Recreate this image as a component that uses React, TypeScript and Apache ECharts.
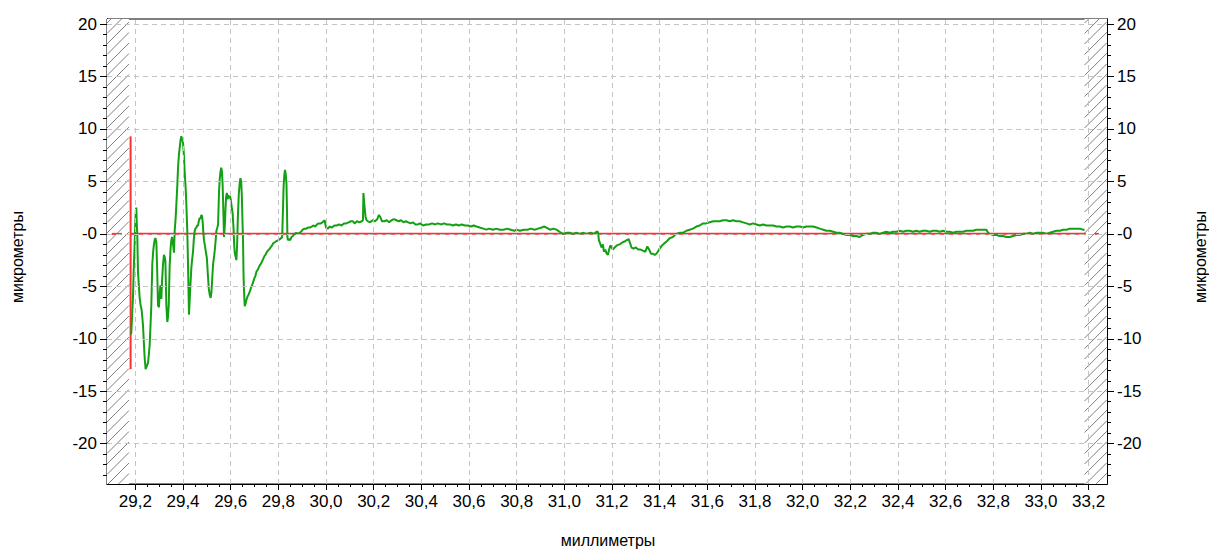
import React, { useEffect, useRef } from "react";
import * as echarts from "echarts";

// ---- axis ranges / ticks ----
const xMin = 29.081;
const xMax = 33.277;
const yMin = -23.84;
const yMax = 20.48;
const xMajor = [29.2, 29.4, 29.6, 29.8, 30.0, 30.2, 30.4, 30.6, 30.8, 31.0, 31.2, 31.4, 31.6, 31.8, 32.0, 32.2, 32.4, 32.6, 32.8, 33.0, 33.2];
const xMinor = [29.2, 29.25, 29.3, 29.35, 29.4, 29.45, 29.5, 29.55, 29.6, 29.65, 29.7, 29.75, 29.8, 29.85, 29.9, 29.95, 30.0, 30.05, 30.1, 30.15, 30.2, 30.25, 30.3, 30.35, 30.4, 30.45, 30.5, 30.55, 30.6, 30.65, 30.7, 30.75, 30.8, 30.85, 30.9, 30.95, 31.0, 31.05, 31.1, 31.15, 31.2, 31.25, 31.3, 31.35, 31.4, 31.45, 31.5, 31.55, 31.6, 31.65, 31.7, 31.75, 31.8, 31.85, 31.9, 31.95, 32.0, 32.05, 32.1, 32.15, 32.2, 32.25, 32.3, 32.35, 32.4, 32.45, 32.5, 32.55, 32.6, 32.65, 32.7, 32.75, 32.8, 32.85, 32.9, 32.95, 33.0, 33.05, 33.1, 33.15, 33.2];
const yMajor = [-20, -15, -10, -5, 0, 5, 10, 15, 20];
const yMinor = [-23, -22, -21, -20, -19, -18, -17, -16, -15, -14, -13, -12, -11, -10, -9, -8, -7, -6, -5, -4, -3, -2, -1, 0, 1, 2, 3, 4, 5, 6, 7, 8, 9, 10, 11, 12, 13, 14, 15, 16, 17, 18, 19, 20];

// ---- hatched (no-data) zones, mm ----
const hatchZones = [
  [29.081, 29.173],
  [33.183, 33.277],
];

// ---- red reference lines ----
const zeroLeft = [[29.101, 0], [29.143, 0]];
const zeroMain = [[29.18, 0], [33.188, 0]];
const zeroRight = [[33.226, 0], [33.243, 0]];
const startMarker = [[29.18, 9.3], [29.18, -12.9]];

// ---- measured profile (mm, micrometres) ----
const profileStart: [number, number][] = [
  [29.181, -9.6], [29.183, -9.4], [29.186, -8.0], [29.188, -7.0], [29.190, -6.1], [29.193, -3.5], [29.197, -1.0], [29.200, 1.2], [29.202, 2.2], [29.204, 2.5], [29.206, 1.0], [29.208, 0.0],
  [29.211, -3.6], [29.215, -5.0], [29.218, -6.1], [29.222, -6.8], [29.226, -7.2], [29.229, -7.9], [29.232, -8.7], [29.236, -10.5], [29.239, -11.8], [29.243, -12.9], [29.248, -12.6], [29.253, -12.3],
  [29.257, -11.4], [29.260, -10.6], [29.264, -8.5], [29.267, -6.8], [29.271, -2.9], [29.275, -1.6], [29.278, -1.0], [29.281, -0.6], [29.284, -0.4], [29.288, -0.8], [29.291, -3.0], [29.295, -6.8],
  [29.299, -7.0], [29.302, -5.8], [29.305, -4.9], [29.309, -6.2], [29.312, -4.5], [29.316, -2.9], [29.320, -2.0], [29.323, -2.2], [29.326, -2.6], [29.330, -6.8], [29.334, -8.4], [29.337, -7.9],
  [29.340, -6.8], [29.344, -3.0], [29.348, -1.3], [29.351, -0.6], [29.354, -0.3], [29.358, -0.9], [29.362, -1.8], [29.365, 0.3], [29.369, 1.5], [29.372, 2.8], [29.376, 4.6], [29.379, 6.3],
  [29.383, 7.6], [29.386, 8.2], [29.390, 9.0], [29.393, 9.3], [29.396, 9.0], [29.400, 8.7], [29.404, 7.4], [29.407, 5.9], [29.411, 4.4], [29.414, 2.8], [29.418, 0.2], [29.421, -3.0],
  [29.425, -7.7], [29.428, -6.3], [29.431, -4.9], [29.435, -3.2], [29.438, -2.5], [29.442, -1.7], [29.445, -0.6], [29.449, 0.3], [29.452, 0.5], [29.456, 0.6], [29.459, 0.8], [29.463, 0.8],
  [29.466, 1.2], [29.470, 1.5], [29.474, 1.5], [29.477, 1.8], [29.480, 1.7], [29.483, 1.0], [29.485, 0.2], [29.488, -0.6], [29.491, -1.0], [29.495, -1.6], [29.500, -2.3], [29.504, -3.8],
  [29.508, -5.2], [29.512, -5.8], [29.516, -6.1], [29.519, -5.6], [29.521, -4.9], [29.526, -2.9], [29.530, -2.2], [29.533, -1.6], [29.537, -0.6], [29.540, 0.3], [29.544, 0.6], [29.547, 0.9],
  [29.551, 4.0], [29.554, 5.2], [29.557, 5.9], [29.560, 6.3], [29.563, 6.0], [29.566, 4.8], [29.568, 3.2], [29.572, -0.3],
];

const profileMiddle: [number, number][] = [
  [29.576, 1.0], [29.578, 2.3], [29.581, 3.6], [29.584, 3.9], [29.587, 3.3], [29.590, 3.7], [29.594, 3.4], [29.597, 3.6], [29.600, 3.3], [29.604, 2.6], [29.608, 2.0], [29.612, 0.5],
  [29.615, -1.2], [29.617, -1.8], [29.621, -2.2], [29.624, -2.5], [29.627, -1.0], [29.630, 1.5], [29.634, 3.8], [29.638, 4.9], [29.641, 5.3], [29.644, 5.0], [29.647, 3.5], [29.650, 0.8],
  [29.652, -0.9], [29.654, -4.1], [29.657, -6.0], [29.659, -6.9], [29.663, -6.6], [29.666, -6.3], [29.670, -6.0], [29.675, -5.8], [29.680, -5.5], [29.686, -5.1], [29.690, -4.9], [29.694, -4.6],
  [29.700, -4.2], [29.704, -4.0], [29.708, -3.6], [29.714, -3.4], [29.718, -3.2], [29.722, -3.0], [29.728, -2.8], [29.732, -2.6], [29.736, -2.4], [29.742, -2.1], [29.746, -2.0], [29.750, -1.8],
  [29.756, -1.6], [29.760, -1.5], [29.764, -1.4], [29.770, -1.2], [29.774, -1.1], [29.778, -0.9], [29.785, -0.8], [29.792, -0.7], [29.800, -0.6], [29.806, -0.5], [29.812, -0.4], [29.816, -0.3],
  [29.819, 2.0], [29.822, 4.5], [29.825, 5.6], [29.828, 6.1], [29.831, 5.7], [29.834, 4.8], [29.836, 2.6], [29.838, -0.3], [29.840, -0.6], [29.845, -0.5], [29.850, -0.6], [29.855, -0.3],
  [29.861, -0.2], [29.868, 0.0], [29.875, 0.1], [29.882, 0.0], [29.889, 0.1], [29.895, 0.2], [29.902, 0.4], [29.910, 0.5], [29.917, 0.5], [29.924, 0.6], [29.932, 0.6], [29.940, 0.7],
  [29.948, 0.8], [29.955, 0.7], [29.962, 0.9], [29.970, 1.0], [29.978, 1.0], [29.985, 1.1], [29.994, 1.3], [30.000, 0.6], [30.008, 0.5], [30.015, 0.7], [30.025, 0.6], [30.035, 0.8],
  [30.045, 0.8], [30.055, 0.9], [30.065, 0.8], [30.075, 1.0], [30.085, 1.0], [30.095, 1.1], [30.105, 1.2], [30.113, 1.2], [30.120, 1.0], [30.130, 1.2], [30.140, 1.1], [30.150, 1.2],
  [30.155, 1.3], [30.157, 3.9], [30.160, 3.0], [30.163, 2.3], [30.166, 1.6], [30.170, 1.3], [30.176, 1.2], [30.185, 1.1], [30.195, 1.3], [30.205, 1.2], [30.215, 1.4], [30.222, 1.8],
  [30.228, 1.6], [30.235, 1.2], [30.245, 1.2], [30.255, 1.3], [30.265, 1.1], [30.275, 1.3], [30.285, 1.4], [30.295, 1.3], [30.305, 1.2], [30.315, 1.3], [30.325, 1.1], [30.335, 1.2],
  [30.345, 1.1], [30.355, 1.0], [30.365, 1.1], [30.375, 0.9], [30.385, 0.9], [30.395, 1.0], [30.407, 0.8], [30.420, 0.9], [30.432, 0.9], [30.445, 1.0], [30.458, 0.9], [30.470, 1.0],
  [30.482, 0.9], [30.495, 1.0], [30.508, 0.9], [30.520, 0.9], [30.532, 0.8], [30.545, 0.9], [30.558, 0.8], [30.570, 0.9], [30.583, 0.8], [30.595, 0.8], [30.610, 0.7], [30.620, 0.8],
  [30.631, 0.7], [30.645, 0.6], [30.660, 0.5], [30.673, 0.4], [30.685, 0.5], [30.700, 0.4], [30.715, 0.5], [30.729, 0.4], [30.745, 0.4], [30.760, 0.5], [30.775, 0.4], [30.790, 0.3],
  [30.800, 0.4], [30.813, 0.3], [30.830, 0.4], [30.845, 0.4], [30.860, 0.5], [30.875, 0.4], [30.890, 0.5], [30.905, 0.6], [30.915, 0.7], [30.925, 0.6], [30.940, 0.4], [30.955, 0.5],
  [30.967, 0.4], [30.980, 0.2], [30.994, 0.0], [31.010, 0.1], [31.025, 0.1], [31.036, 0.0], [31.050, 0.1], [31.065, 0.0], [31.080, 0.1], [31.093, 0.0], [31.110, 0.1], [31.125, 0.0],
];

const profileEnd: [number, number][] = [
  [31.135, 0.2], [31.141, 0.2], [31.145, -0.6], [31.150, -0.9], [31.156, -1.3], [31.162, -1.0], [31.166, -1.7], [31.172, -1.5], [31.178, -1.9], [31.183, -2.0], [31.188, -1.5], [31.193, -1.1],
  [31.197, -1.2], [31.203, -1.5], [31.211, -1.3], [31.220, -1.1], [31.232, -1.0], [31.245, -0.8], [31.255, -0.7], [31.262, -0.6], [31.270, -0.5], [31.276, -0.9], [31.282, -1.3], [31.290, -1.4],
  [31.300, -1.3], [31.310, -1.5], [31.320, -1.5], [31.330, -1.6], [31.340, -1.7], [31.348, -1.2], [31.356, -1.5], [31.364, -1.9], [31.372, -1.9], [31.380, -2.0], [31.386, -1.9], [31.392, -1.7],
  [31.400, -1.4], [31.410, -1.1], [31.420, -0.9], [31.430, -0.7], [31.443, -0.4], [31.455, -0.3], [31.470, 0.0], [31.485, 0.1], [31.498, 0.1], [31.512, 0.3], [31.526, 0.4], [31.540, 0.5],
  [31.554, 0.7], [31.568, 0.8], [31.582, 1.0], [31.595, 1.0], [31.610, 1.1], [31.625, 1.2], [31.638, 1.2], [31.652, 1.2], [31.666, 1.3], [31.680, 1.3], [31.694, 1.2], [31.708, 1.3],
  [31.722, 1.2], [31.736, 1.2], [31.750, 1.1], [31.764, 1.0], [31.778, 0.9], [31.792, 1.0], [31.806, 0.9], [31.820, 0.8], [31.834, 0.9], [31.848, 0.8], [31.862, 0.8], [31.876, 0.8],
  [31.890, 0.7], [31.904, 0.7], [31.918, 0.6], [31.932, 0.7], [31.946, 0.7], [31.960, 0.6], [31.974, 0.7], [31.988, 0.7], [32.002, 0.6], [32.016, 0.7], [32.030, 0.7], [32.044, 0.7],
  [32.058, 0.6], [32.072, 0.5], [32.086, 0.4], [32.100, 0.3], [32.114, 0.3], [32.128, 0.2], [32.142, 0.1], [32.156, 0.1], [32.170, 0.0], [32.184, -0.1], [32.197, -0.1], [32.211, -0.2],
  [32.225, -0.2], [32.239, -0.3], [32.253, -0.1], [32.267, 0.0], [32.281, 0.0], [32.295, 0.1], [32.309, 0.1], [32.323, 0.0], [32.337, 0.1], [32.351, 0.2], [32.365, 0.1], [32.379, 0.2],
  [32.393, 0.2], [32.407, 0.3], [32.421, 0.2], [32.435, 0.3], [32.449, 0.3], [32.463, 0.2], [32.477, 0.3], [32.491, 0.2], [32.505, 0.3], [32.519, 0.3], [32.533, 0.2], [32.547, 0.3],
  [32.561, 0.3], [32.575, 0.2], [32.589, 0.3], [32.603, 0.2], [32.617, 0.2], [32.631, 0.1], [32.645, 0.2], [32.659, 0.2], [32.673, 0.2], [32.687, 0.3], [32.701, 0.3], [32.715, 0.3],
  [32.729, 0.4], [32.743, 0.4], [32.757, 0.4], [32.771, 0.4], [32.778, 0.1], [32.785, 0.0], [32.799, -0.1], [32.813, -0.1], [32.827, -0.2], [32.841, -0.2], [32.855, -0.3], [32.869, -0.3],
  [32.883, -0.2], [32.897, -0.1], [32.911, -0.1], [32.925, 0.0], [32.939, 0.0], [32.953, 0.1], [32.967, 0.0], [32.981, 0.1], [32.995, 0.1], [33.009, 0.1], [33.023, 0.0], [33.037, 0.1],
  [33.051, 0.2], [33.065, 0.3], [33.079, 0.3], [33.093, 0.4], [33.107, 0.4], [33.121, 0.5], [33.135, 0.5], [33.149, 0.5], [33.163, 0.5], [33.177, 0.4], [33.183, 0.4],
];

const xTitle = "миллиметры";
const yTitle = "микрометры";

const tickFont = "'Liberation Sans', Arial, sans-serif";
const titleFont = "'Liberation Sans', Arial, sans-serif";
const red = "#ff3030";

export default function App() {
  const ref = useRef<HTMLDivElement>(null);
  useEffect(() => {
    if (!ref.current) return;
    const chart = echarts.init(ref.current, null, { renderer: "svg" });
    const fmtX = (v: number) => v.toFixed(1).replace(".", ",");
    const fmtY = (v: number) => (v === 0 ? "-0" : String(v));
    const axisLine = { show: true, onZero: false, lineStyle: { color: "#000", width: 1 } };
    const labelStyle = { color: "#000", fontSize: 17, fontFamily: tickFont };

    const mkX = (ticks: number[], len: number, labels: boolean) => ({
      type: "value",
      min: xMin,
      max: xMax,
      position: "bottom",
      axisLine,
      axisTick: { show: true, customValues: ticks, length: len, lineStyle: { color: "#000" } },
      axisLabel: labels
        ? { show: true, customValues: xMajor, formatter: fmtX, margin: 9, ...labelStyle }
        : { show: false },
      splitLine: { show: false },
      minorTick: { show: false },
    });
    const mkY = (pos: string, ticks: number[], len: number, labels: boolean) => ({
      type: "value",
      min: yMin,
      max: yMax,
      position: pos,
      axisLine,
      axisTick: { show: true, customValues: ticks, length: len, lineStyle: { color: "#000" } },
      axisLabel: labels
        ? { show: true, customValues: yMajor, formatter: fmtY, margin: 10, ...labelStyle }
        : { show: false },
      splitLine: { show: false },
      minorTick: { show: false },
    });
    const redSeries = (name: string, data: any[]) => ({
      name,
      type: "line",
      data,
      z: 3,
      showSymbol: false,
      lineStyle: { color: red, width: 2 },
      silent: true,
    });

    chart.setOption({
      animation: false,
      backgroundColor: "#fff",
      grid: {
        left: 107,
        right: 102,
        top: 19,
        bottom: 65,
        show: true,
        borderColor: "#000",
        borderWidth: 1,
        backgroundColor: "#fff",
        containLabel: false,
        outerBoundsMode: "none",
      },
      xAxis: [mkX(xMajor, 6, true), mkX(xMinor, 3, false)],
      yAxis: [mkY("left", yMajor, 7, true), mkY("left", yMinor, 4, false), mkY("right", yMajor, 7, true), mkY("right", yMinor, 4, false)],
      graphic: [
        { type: "text", x: 608, y: 540, style: { text: xTitle, align: "center", verticalAlign: "middle", font: `16px ${titleFont}`, fill: "#000" } },
        { type: "text", x: 17, y: 257, rotation: Math.PI / 2, style: { text: yTitle, align: "center", verticalAlign: "middle", font: `16px ${titleFont}`, fill: "#000" } },
        { type: "text", x: 1200, y: 257, rotation: Math.PI / 2, style: { text: yTitle, align: "center", verticalAlign: "middle", font: `16px ${titleFont}`, fill: "#000" } },
      ],
      series: [
        {
          name: "grid",
          type: "line",
          data: [],
          z: 1,
          silent: true,
          markLine: {
            silent: true,
            symbol: ["none", "none"],
            label: { show: false },
            animation: false,
            lineStyle: { color: "#c4c4c4", type: [5, 4], width: 1 },
            data: [...yMajor.map((v) => ({ yAxis: v })), ...xMajor.map((v) => ({ xAxis: v }))],
          },
        },
        {
          name: "hatch",
          type: "custom",
          z: 2,
          silent: true,
          data: hatchZones,
          encode: { x: [0, 1] },
          renderItem: (params: any, api: any) => {
            const xa = api.coord([api.value(0), 0])[0];
            const xb = api.coord([api.value(1), 0])[0];
            const cs = params.coordSys;
            const yt = cs.y;
            const yb = cs.y + cs.height;
            const w = xb - xa;
            const children: any[] = [
              { type: "rect", shape: { x: xa, y: yt, width: w, height: yb - yt }, style: { fill: "#fff" } },
            ];
            const step = 10.5;
            for (let c = yt + 4; c < yb + w; c += step) {
              const tStart = Math.max(xa, xa + c - yb);
              const tEnd = Math.min(xb, xa + c - yt);
              if (tEnd <= tStart) continue;
              children.push({
                type: "line",
                shape: { x1: tStart, y1: c - (tStart - xa), x2: tEnd, y2: c - (tEnd - xa) },
                style: { stroke: "#808080", lineWidth: 1 },
              });
            }
            return { type: "group", children };
          },
        },
        redSeries("zeroLeft", zeroLeft),
        redSeries("zeroMain", zeroMain),
        redSeries("zeroRight", zeroRight),
        redSeries("start", startMarker),
        {
          name: "profile",
          type: "line",
          data: [...profileStart, ...profileMiddle, ...profileEnd],
          z: 4,
          showSymbol: false,
          lineStyle: { color: "#14a014", width: 2 },
          silent: true,
        },
      ],
    });
    return () => chart.dispose();
  }, []);
  return <div ref={ref} style={{ position: "absolute", left: 0, top: 0, width: 1209, height: 549 }} />;
}
